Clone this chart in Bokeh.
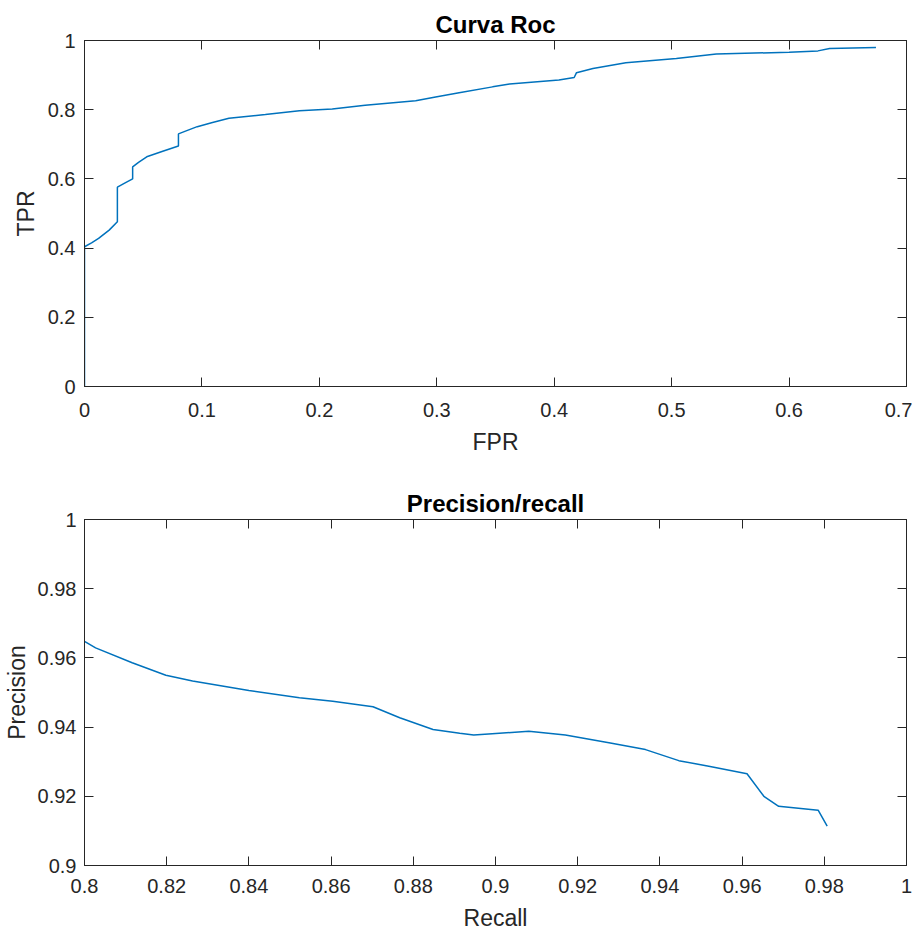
from bokeh.plotting import figure
from bokeh.models import Range1d, FixedTicker, LinearAxis
from bokeh.layouts import column
from bokeh.embed import file_html
from bokeh.resources import INLINE

# ---- ROC data ----
roc_fpr = [0.0, 0.0, 0.006, 0.012, 0.021, 0.028, 0.028, 0.035, 0.041, 0.041,
           0.046, 0.053, 0.066, 0.080, 0.080, 0.086, 0.096, 0.109, 0.123, 0.154,
           0.183, 0.211, 0.239, 0.282, 0.299, 0.319, 0.3475, 0.362, 0.404, 0.417,
           0.419, 0.433, 0.461, 0.504, 0.538, 0.600, 0.6246, 0.6345, 0.674]
roc_tpr = [0.0, 0.404, 0.415, 0.428, 0.452, 0.476, 0.576, 0.589, 0.600, 0.635,
           0.648, 0.664, 0.679, 0.695, 0.730, 0.738, 0.751, 0.763, 0.775, 0.786,
           0.797, 0.802, 0.813, 0.826, 0.837, 0.849, 0.866, 0.874, 0.886, 0.893,
           0.907, 0.919, 0.936, 0.948, 0.961, 0.966, 0.970, 0.977, 0.980]

# ---- Precision / recall data ----
pr_recall = [0.800, 0.8027, 0.8116, 0.8198, 0.8263, 0.840, 0.8523, 0.8604, 0.8702,
             0.8767, 0.8848, 0.8913, 0.8947, 0.8992, 0.9081, 0.9170, 0.9276, 0.9365,
             0.9446, 0.9519, 0.9612, 0.9653, 0.9689, 0.9785, 0.9807]
pr_precision = [0.9648, 0.9629, 0.9586, 0.9550, 0.9533, 0.9506, 0.9485, 0.9475, 0.9459,
                0.9427, 0.9393, 0.9382, 0.9377, 0.9381, 0.9388, 0.9377, 0.9355, 0.9335,
                0.9303, 0.9287, 0.9265, 0.9200, 0.9171, 0.9160, 0.9114]

# ---- ticks ----
roc_x_ticks = [0, 0.1, 0.2, 0.3, 0.4, 0.5, 0.6, 0.7]
roc_x_labels = ["0", "0.1", "0.2", "0.3", "0.4", "0.5", "0.6", "0.7"]
roc_y_ticks = [0, 0.2, 0.4, 0.6, 0.8, 1.0]
roc_y_labels = ["0", "0.2", "0.4", "0.6", "0.8", "1"]
pr_x_ticks = [0.8, 0.82, 0.84, 0.86, 0.88, 0.9, 0.92, 0.94, 0.96, 0.98, 1.0]
pr_x_labels = ["0.8", "0.82", "0.84", "0.86", "0.88", "0.9", "0.92", "0.94", "0.96", "0.98", "1"]
pr_y_ticks = [0.9, 0.92, 0.94, 0.96, 0.98, 1.0]
pr_y_labels = ["0.9", "0.92", "0.94", "0.96", "0.98", "1"]

FONT = "Liberation Sans"
AX_COLOR = "#262626"
LINE_COLOR = "#0072BD"


def style_axis(ax, ticks, labels, show_labels):
    ax.ticker = FixedTicker(ticks=ticks)
    ax.axis_line_color = AX_COLOR
    ax.major_tick_line_color = AX_COLOR
    ax.major_tick_in = 9
    ax.major_tick_out = 0
    ax.minor_tick_line_color = None
    ax.major_label_text_font = FONT
    ax.axis_label_text_font = FONT
    ax.axis_label_text_color = AX_COLOR
    ax.axis_label_text_font_style = "normal"
    ax.axis_label_text_font_size = "23px"
    if show_labels:
        ax.major_label_overrides = {t: l for t, l in zip(ticks, labels)}
        ax.major_label_text_color = AX_COLOR
        ax.major_label_text_font_size = "20px"
    else:
        ax.major_label_text_color = None
        ax.major_label_text_font_size = "0px"
        ax.major_label_standoff = 0


def make_fig(title, xr, yr, xticks, xlabels, yticks, ylabels, xlab, ylab,
             top_border, bottom_border, tick_standoff, label_standoff,
             ytick_standoff, ylabel_standoff):
    p = figure(frame_width=822, frame_height=346, x_range=Range1d(*xr), y_range=Range1d(*yr),
               output_backend="svg", toolbar_location=None, title=title,
               min_border_left=78, min_border_right=12, min_border_top=top_border,
               min_border_bottom=bottom_border)
    p.title.align = "center"
    p.title.text_font = FONT
    p.title.text_font_size = "24px"
    p.title.text_font_style = "bold"
    p.title.text_color = "#000000"
    p.title.standoff = 6
    p.xgrid.visible = False
    p.ygrid.visible = False
    p.outline_line_color = AX_COLOR
    p.background_fill_color = "white"
    p.border_fill_color = "white"
    p.add_layout(LinearAxis(), "above")
    p.add_layout(LinearAxis(), "right")
    for ax in p.below:
        style_axis(ax, xticks, xlabels, True)
        ax.major_label_standoff = tick_standoff
        ax.axis_label = xlab
        ax.axis_label_standoff = label_standoff
    for ax in p.above:
        style_axis(ax, xticks, xlabels, False)
    for ax in p.left:
        style_axis(ax, yticks, ylabels, True)
        ax.major_label_standoff = ytick_standoff
        ax.axis_label = ylab
        ax.axis_label_standoff = ylabel_standoff
    for ax in p.right:
        style_axis(ax, yticks, ylabels, False)
    return p


p1 = make_fig("Curva Roc", (0, 0.7), (0, 1), roc_x_ticks, roc_x_labels,
              roc_y_ticks, roc_y_labels, "FPR", "TPR", 40, 70, 16, 9, 9, 6)
p1.line(roc_fpr, roc_tpr, line_color=LINE_COLOR, line_width=1.5)

p2 = make_fig("Precision/recall", (0.8, 1.0), (0.9, 1.0), pr_x_ticks, pr_x_labels,
              pr_y_ticks, pr_y_labels, "Recall", "Precision", 62, 50, 13, 9, 8, 5)
p2.line(pr_recall, pr_precision, line_color=LINE_COLOR, line_width=1.5)

layout = column(p1, p2)
open("out.html", "w").write(file_html(layout, INLINE))
